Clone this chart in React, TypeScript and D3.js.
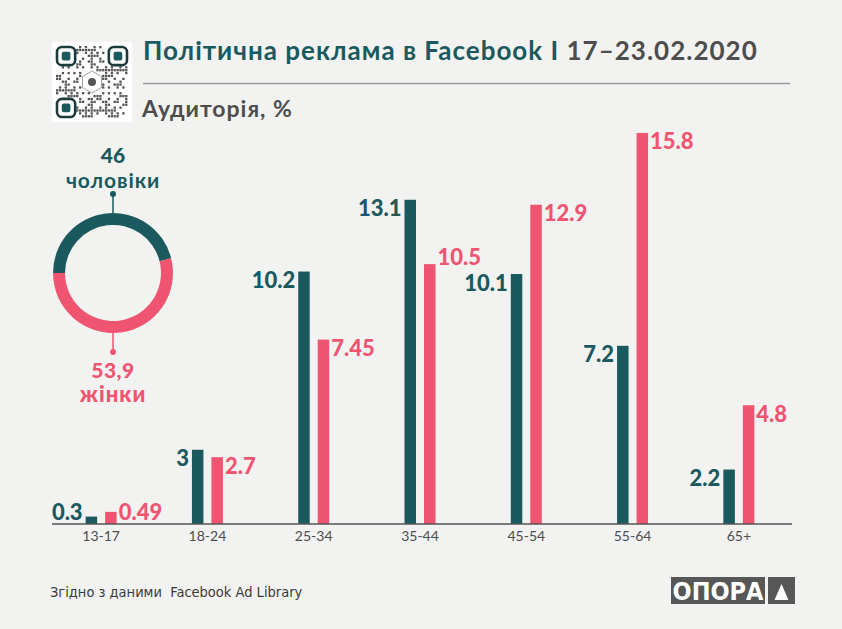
import * as d3 from 'd3';
import {useEffect, useRef} from 'react';

const ageGroups = ['13-17', '18-24', '25-34', '35-44', '45-54', '55-64', '65+'];
const menValues = [0.3, 3, 10.2, 13.1, 10.1, 7.2, 2.2];
const womenValues = [0.49, 2.7, 7.45, 10.5, 12.9, 15.8, 4.8];
const genderLabels = ['чоловіки', 'жінки'];
const genderValues = [46, 53.9];
const genderTexts = ['46', '53,9'];

const TEAL = '#1a5a5e';
const PINK = '#ef5571';
const GRAY = '#4d4d4d';
const BG = '#f2f3f1';
const FONT = 'Lato, "Open Sans", sans-serif';
const NARROW = '"Liberation Sans Narrow", "DejaVu Sans Condensed", sans-serif';

export default function App() {
    const ref = useRef(null);
    const width = 842;
    const height = 629;

    useEffect(() => {
        document.body.style.margin = '0';
        const svg = d3.select(ref.current);
        svg.selectAll('*').remove();

        svg.append('rect').attr('width', width).attr('height', height).attr('fill', BG);

        // QR-like badge
        const qr = svg.append('g').attr('transform', 'translate(52,42)');
        qr.append('rect').attr('width', 80).attr('height', 80).attr('fill', '#fff');
        const n = 25;
        const cell = 72 / n;
        for (let r = 0; r < n; r++) {
            for (let c = 0; c < n; c++) {
                const inFinder = (r < 7 && c < 7) || (r < 7 && c > n - 8) || (r > n - 8 && c < 7);
                const inCenter = r > 8 && r < 16 && c > 8 && c < 16;
                if (inFinder || inCenter) continue;
                const h = (r * 31 + c * 17 + ((r * c) % 7) * 13) % 5;
                if (h < 2) {
                    qr.append('rect')
                        .attr('x', 4 + c * cell)
                        .attr('y', 4 + r * cell)
                        .attr('width', cell * 0.8)
                        .attr('height', cell * 0.8)
                        .attr('fill', '#555');
                }
            }
        }
        [[4, 4], [4 + (n - 7) * cell, 4], [4, 4 + (n - 7) * cell]].forEach(([x, y]) => {
            qr.append('rect').attr('x', x + 1).attr('y', y + 1).attr('width', 7 * cell - 2).attr('height', 7 * cell - 2)
                .attr('rx', 5).attr('fill', 'none').attr('stroke', '#1d3b3d').attr('stroke-width', 2.6);
            qr.append('rect').attr('x', x + 2 * cell).attr('y', y + 2 * cell).attr('width', 3 * cell).attr('height', 3 * cell)
                .attr('rx', 2).attr('fill', TEAL);
        });
        const hex = d3.range(6).map((i) => {
            const a = (Math.PI / 3) * i + Math.PI / 6;
            return [40 + 11 * Math.cos(a), 40 + 11 * Math.sin(a)];
        });
        qr.append('polygon').attr('points', hex.map((p) => p.join(',')).join(' '))
            .attr('fill', '#fff').attr('stroke', '#888').attr('stroke-width', 0.8);
        qr.append('circle').attr('cx', 40).attr('cy', 40).attr('r', 4).attr('fill', '#555');

        // Title
        const title = svg.append('text').attr('x', 143).attr('y', 60)
            .attr('font-family', FONT).attr('font-weight', 700).attr('font-size', 26)
            .attr('letter-spacing', 1);
        title.append('tspan').attr('fill', TEAL).text('Політична реклама в Facebook I ');
        title.append('tspan').attr('fill', GRAY).text('17–23.02.2020');
        svg.append('line').attr('x1', 143).attr('x2', 790).attr('y1', 83.5).attr('y2', 83.5)
            .attr('stroke', '#9a9a9a').attr('stroke-width', 1.5);
        svg.append('text').attr('x', 142).attr('y', 117).attr('fill', GRAY)
            .attr('font-family', FONT).attr('font-weight', 700).attr('font-size', 23)
            .attr('letter-spacing', 1)
            .text('Аудиторія, %');

        // Donut
        const cx = 113;
        const cy = 273;
        const pie = d3.pie<number>().sort(null).startAngle(-Math.PI / 2).endAngle((3 * Math.PI) / 2);
        const arc = d3.arc<d3.PieArcDatum<number>>().innerRadius(48).outerRadius(60);
        const donut = svg.append('g').attr('transform', `translate(${cx},${cy})`);
        donut.selectAll('path').data(pie(genderValues)).join('path')
            .attr('d', arc).attr('fill', (_, i) => (i === 0 ? TEAL : PINK));

        donut.append('line').attr('x1', 0).attr('x2', 0).attr('y1', -79).attr('y2', -60).attr('stroke', TEAL).attr('stroke-width', 1.5);
        donut.append('circle').attr('cx', 0).attr('cy', -79).attr('r', 3).attr('fill', TEAL);
        donut.append('line').attr('x1', 0).attr('x2', 0).attr('y1', 60).attr('y2', 79).attr('stroke', PINK).attr('stroke-width', 1.5);
        donut.append('circle').attr('cx', 0).attr('cy', 79).attr('r', 3).attr('fill', PINK);

        // value over gender name
        donut.append('text').attr('y', -110).attr('text-anchor', 'middle').attr('fill', TEAL)
            .attr('font-family', FONT).attr('font-weight', 900).attr('font-size', 21).text(genderTexts[0]);
        donut.append('text').attr('y', -85).attr('text-anchor', 'middle').attr('fill', TEAL)
            .attr('font-family', FONT).attr('font-weight', 700).attr('font-size', 21)
            .attr('letter-spacing', 0.9).text(genderLabels[0]);
        donut.append('text').attr('y', 105).attr('text-anchor', 'middle').attr('fill', PINK)
            .attr('font-family', FONT).attr('font-weight', 900).attr('font-size', 21)
            .attr('letter-spacing', 0.5).text(genderTexts[1]);
        donut.append('text').attr('y', 129).attr('text-anchor', 'middle').attr('fill', PINK)
            .attr('font-family', FONT).attr('font-weight', 900).attr('font-size', 22)
            .attr('letter-spacing', 1).text(genderLabels[1]);

        // Bars
        const x = d3.scaleBand<string>().domain(ageGroups).range([48, 792]);
        const y = d3.scaleLinear().domain([0, 16]).range([524, 128]);
        const barW = 11.5;
        const gap = 8;
        const labelY = (v: number) => Math.min(y(v) + 16.5, y(0) - 4);

        const groups = svg.append('g').selectAll('g').data(ageGroups).join('g')
            .attr('transform', (d) => `translate(${x(d)! + x.bandwidth() / 2},0)`);

        groups.append('rect')
            .attr('x', -gap / 2 - barW).attr('width', barW)
            .attr('y', (_, i) => y(menValues[i])).attr('height', (_, i) => y(0) - y(menValues[i]))
            .attr('fill', TEAL);
        groups.append('rect')
            .attr('x', gap / 2).attr('width', barW)
            .attr('y', (_, i) => y(womenValues[i])).attr('height', (_, i) => y(0) - y(womenValues[i]))
            .attr('fill', PINK);

        groups.append('text')
            .attr('x', -gap / 2 - barW - 3).attr('y', (_, i) => labelY(menValues[i]))
            .attr('text-anchor', 'end').attr('fill', TEAL)
            .attr('font-family', FONT).attr('font-weight', 900).attr('font-size', 22)
            .text((_, i) => String(menValues[i]));
        groups.append('text')
            .attr('x', gap / 2 + barW + 2)
            .attr('y', (_, i) => {
                const next = menValues[i + 1];
                // lift the label above the bar when it would run into the next group's label
                if (next !== undefined && Math.abs(y(womenValues[i]) - y(next)) < 18) return y(womenValues[i]) + 1;
                return labelY(womenValues[i]);
            })
            .attr('fill', PINK)
            .attr('font-family', FONT).attr('font-weight', 900).attr('font-size', 22)
            .text((_, i) => String(womenValues[i]));

        const xAxis = d3.axisBottom(x).tickSize(0).tickPadding(7);
        const axisG = svg.append('g').attr('transform', `translate(0,${y(0)})`).call(xAxis);
        axisG.select('.domain').attr('stroke', '#555').attr('stroke-width', 1.5).attr('d', 'M52,0H792');
        axisG.selectAll('text').attr('fill', GRAY).attr('font-family', FONT).attr('font-size', 14);

        // Footer
        svg.append('text').attr('x', 50).attr('y', 597).attr('fill', '#3a3a3a')
            .attr('font-family', NARROW)
            .attr('font-size', 14.5)
            .attr('xml:space', 'preserve')
            .text('Згідно з даними  Facebook Ad Library');

        svg.append('rect').attr('x', 671).attr('y', 577).attr('width', 94).attr('height', 27).attr('fill', '#575757');
        svg.append('text').attr('x', 718).attr('y', 600).attr('text-anchor', 'middle').attr('fill', '#fff')
            .attr('font-family', NARROW)
            .attr('font-weight', 700).attr('font-size', 25).text('ОПОРА');
        svg.append('rect').attr('x', 768).attr('y', 577).attr('width', 27).attr('height', 27).attr('fill', '#575757');
        svg.append('polygon').attr('points', '781.5,584 788.5,600 774.5,600').attr('fill', '#fff');
    }, []);

    return <svg ref={ref} width={width} height={height} style={{display: 'block'}}></svg>;
}
